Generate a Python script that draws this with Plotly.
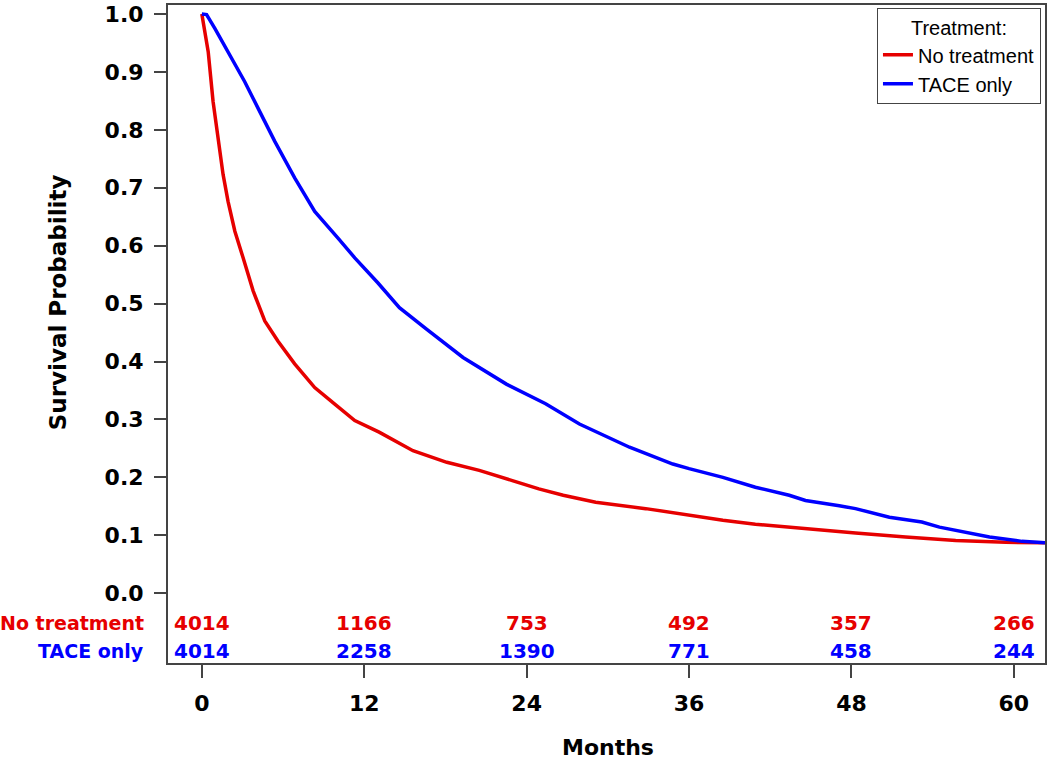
import plotly.graph_objects as go

# ---- data ----
months_no = [0, 0.47, 0.83, 1.2, 1.57, 1.94, 2.44, 3.05, 3.79, 4.65, 5.63, 6.86, 8.34, 9.8, 11.3,
             13.1, 15.6, 18.1, 20.5, 23.0, 24.9, 26.7, 29.1, 32.8, 35.3, 38.5, 40.9, 44.6, 48.3,
             52.0, 55.7, 59.4, 62.3]
surv_no = [1.0, 0.935, 0.849, 0.78, 0.723, 0.676, 0.625, 0.579, 0.522, 0.47, 0.435, 0.396, 0.355,
           0.327, 0.298, 0.278, 0.246, 0.226, 0.212, 0.194, 0.180, 0.169, 0.157, 0.146, 0.137,
           0.126, 0.119, 0.111, 0.104, 0.097, 0.091, 0.088, 0.087]

months_tace = [0, 0.35, 0.96, 1.94, 3.17, 4.16, 5.39, 6.86, 8.34, 10.06, 11.3, 13.0, 14.6, 16.6,
               19.3, 22.5, 25.4, 27.9, 31.6, 34.8, 36.0, 38.5, 40.9, 43.4, 44.6, 47.1, 48.3, 50.8,
               53.2, 54.5, 56.4, 58.2, 60.6, 62.3]
surv_tace = [1.0, 0.999, 0.975, 0.935, 0.883, 0.837, 0.78, 0.717, 0.659, 0.613, 0.579, 0.536,
             0.493, 0.456, 0.407, 0.361, 0.327, 0.292, 0.252, 0.223, 0.215, 0.200, 0.183, 0.169,
             0.160, 0.151, 0.146, 0.131, 0.123, 0.114, 0.106, 0.097, 0.0895, 0.087]

risk_times = [0, 12, 24, 36, 48, 60]
risk_no = [4014, 1166, 753, 492, 357, 266]
risk_tace = [4014, 2258, 1390, 771, 458, 244]

series_names = ["No treatment", "TACE only"]
RED = "#e60000"
BLUE = "#0000ff"

BOLD = "DejaVu Sans"

fig = go.Figure()
fig.add_trace(go.Scatter(x=months_no, y=surv_no, mode="lines", name=series_names[0],
                         line=dict(color=RED, width=3.5)))
fig.add_trace(go.Scatter(x=months_tace, y=surv_tace, mode="lines", name=series_names[1],
                         line=dict(color=BLUE, width=3.5)))

annotations = []
for t, n1, n2 in zip(risk_times, risk_no, risk_tace):
    annotations.append(dict(x=t, y=-0.0516, xref="x", yref="y", text=f"<b>{n1}</b>",
                            showarrow=False, font=dict(family=BOLD, size=20, color=RED),
                            xanchor="center", yanchor="middle"))
    annotations.append(dict(x=t, y=-0.0998, xref="x", yref="y", text=f"<b>{n2}</b>",
                            showarrow=False, font=dict(family=BOLD, size=20, color=BLUE),
                            xanchor="center", yanchor="middle"))
annotations.append(dict(x=-0.025, y=-0.0516, xref="paper", yref="y", text=f"<b>{series_names[0]}</b>",
                        showarrow=False, font=dict(family=BOLD, size=19, color=RED),
                        xanchor="right", yanchor="middle"))
annotations.append(dict(x=-0.025, y=-0.0998, xref="paper", yref="y", text=f"<b>{series_names[1]}</b>",
                        showarrow=False, font=dict(family=BOLD, size=19, color=BLUE),
                        xanchor="right", yanchor="middle"))
# axis titles
annotations.append(dict(x=30, y=-0.128, xref="x", yref="paper", text="<b>Months</b>",
                        showarrow=False, font=dict(family=BOLD, size=22, color="black"),
                        xanchor="center", yanchor="middle"))
annotations.append(dict(x=-0.1253, y=0.5485, xref="paper", yref="paper",
                        text="<b>Survival Probability</b>", textangle=-90,
                        showarrow=False, font=dict(family=BOLD, size=23, color="black"),
                        xanchor="center", yanchor="middle"))

fig.update_layout(
    width=1050, height=760,
    margin=dict(l=168, r=4, t=3, b=97),
    paper_bgcolor="white", plot_bgcolor="white",
    showlegend=True,
    legend=dict(x=0.9954, y=0.995, xanchor="right", yanchor="top",
                bgcolor="white", bordercolor="#444", borderwidth=1,
                font=dict(family="Liberation Sans", size=20, color="black"),
                title=dict(text="Treatment:", side="top center",
                           font=dict(family="Liberation Sans", size=20, color="black")),
                tracegroupgap=0, itemwidth=30),
    annotations=annotations,
)
fig.update_xaxes(range=[-2.5, 62.3], tickvals=risk_times, ticktext=[str(v) for v in risk_times],
                 ticks="outside", ticklen=13, tickwidth=1.5, tickcolor="#444",
                 showline=True, linecolor="#444", linewidth=2, mirror=True,
                 showgrid=False, zeroline=False, ticklabelstandoff=7,
                 tickfont=dict(family=BOLD, size=22, color="black", weight="bold"))
fig.update_yaxes(range=[-0.1205, 1.0155], tickvals=[i / 10 for i in range(11)],
                 tickformat=".1f",
                 ticks="outside", ticklen=12, tickwidth=1.5, tickcolor="#444",
                 showline=True, linecolor="#444", linewidth=2, mirror=True,
                 showgrid=False, zeroline=False, ticklabelstandoff=6,
                 tickfont=dict(family=BOLD, size=22, color="black", weight="bold"))

fig.write_html("out.html", config={"displayModeBar": False},
               post_script="document.body.style.margin='0';document.body.style.overflow='hidden';")
